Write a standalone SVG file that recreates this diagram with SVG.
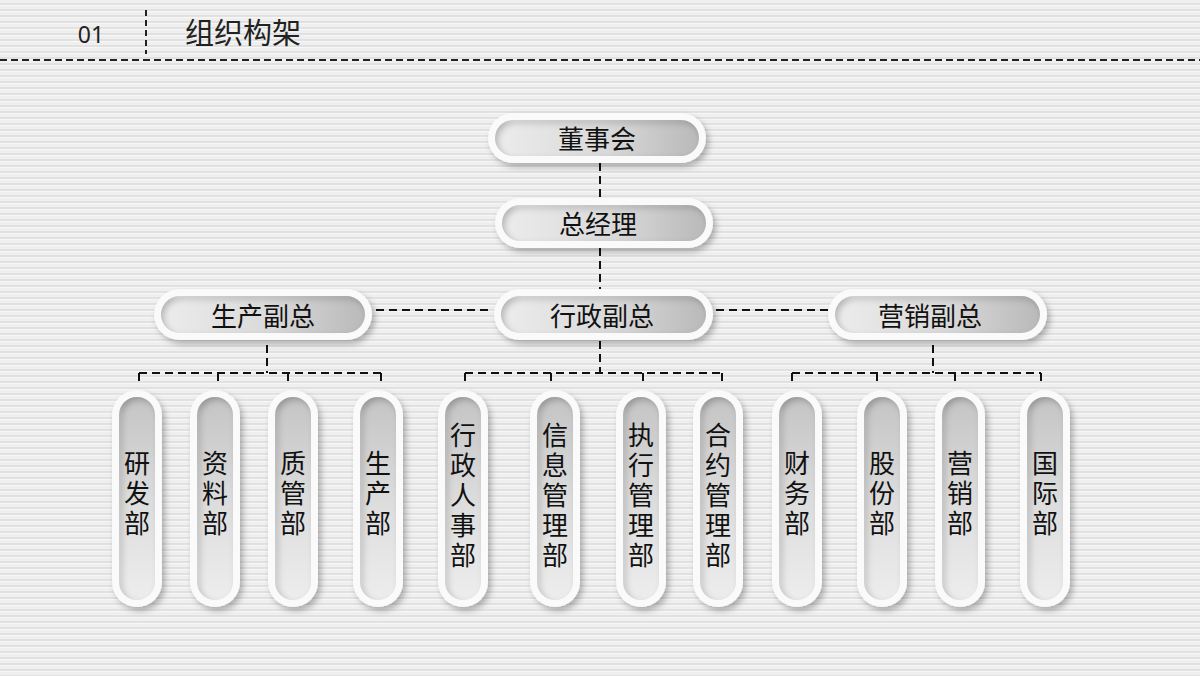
<svg xmlns="http://www.w3.org/2000/svg" width="1200" height="676" viewBox="0 0 1200 676">
<defs>
  <pattern id="stripes" width="8" height="6" patternUnits="userSpaceOnUse">
    <rect width="8" height="6" fill="#efefef"/>
    <rect y="3" width="8" height="2" fill="#e1e1e1"/>
    <rect y="5" width="8" height="1" fill="#f7f7f7"/>
  </pattern>
  <linearGradient id="gH" x1="0" y1="0" x2="1" y2="0">
    <stop offset="0" stop-color="#ececec"/>
    <stop offset="0.55" stop-color="#d9d9d9"/>
    <stop offset="1" stop-color="#b9b9b9"/>
  </linearGradient>
  <linearGradient id="gV" x1="0" y1="0" x2="0" y2="1">
    <stop offset="0" stop-color="#c4c4c4"/>
    <stop offset="0.5" stop-color="#dcdcdc"/>
    <stop offset="1" stop-color="#ededed"/>
  </linearGradient>
  <filter id="drop" x="-20%" y="-20%" width="140%" height="140%">
    <feDropShadow dx="3" dy="4" stdDeviation="3" flood-color="#000" flood-opacity="0.28"/>
  </filter>
  <filter id="inset" x="-10%" y="-10%" width="120%" height="120%">
    <feComponentTransfer in="SourceAlpha" result="inv">
      <feFuncA type="table" tableValues="1 0"/>
    </feComponentTransfer>
    <feGaussianBlur in="inv" stdDeviation="3" result="b"/>
    <feOffset in="b" dx="3" dy="3" result="ob"/>
    <feFlood flood-color="#000" flood-opacity="0.45"/>
    <feComposite in2="ob" operator="in"/>
    <feComposite in2="SourceAlpha" operator="in" result="sh"/>
    <feMerge><feMergeNode in="SourceGraphic"/><feMergeNode in="sh"/></feMerge>
  </filter>
</defs>
<style>
  .outer { fill: #fafafa; filter: url(#drop); }
  .innerH { fill: url(#gH); filter: url(#inset); }
  .innerV { fill: url(#gV); filter: url(#inset); }
  .t { font-family: "Noto Sans CJK SC", "Noto Sans", sans-serif; font-size: 26px; fill: #111; text-anchor: middle; }
  .tv { font-family: "Noto Sans CJK SC", "Noto Sans", sans-serif; font-size: 26px; fill: #111; text-anchor: middle; writing-mode: vertical-rl; letter-spacing: 4px; }
  .dash { stroke: #111; stroke-width: 2; stroke-dasharray: 8 5; fill: none; }
</style>
<rect width="1200" height="676" fill="url(#stripes)"/>

<g id="header">
  <text x="91" y="43" font-family="'Noto Sans', sans-serif" font-size="23" fill="#222" text-anchor="middle">01</text>
  <line x1="146" y1="10" x2="146" y2="54" stroke="#222" stroke-width="2" stroke-dasharray="6 4"/>
  <text x="185" y="44" font-family="'Noto Sans CJK SC', sans-serif" font-size="29" fill="#222">组织构架</text>
  <line x1="0" y1="60" x2="1200" y2="60" stroke="#222" stroke-width="2" stroke-dasharray="7 4"/>
</g>

<g id="connectors">
  <path class="dash" d="M600 163 V198"/>
  <path class="dash" d="M600 248 V289"/>
  <path class="dash" d="M376 310 H492"/>
  <path class="dash" d="M716 310 H828"/>
  <path class="dash" d="M267 345 V373 M139 373 H381 M139 373 V384 M218 373 V384 M288 373 V384 M381 373 V384"/>
  <path class="dash" d="M600 341 V373 M465 373 H722 M465 373 V384 M551 373 V384 M643 373 V384 M722 373 V384"/>
  <path class="dash" d="M933 345 V373 M792 373 H1041 M792 373 V384 M877 373 V384 M955 373 V384 M1041 373 V384"/>
</g>

<g id="n-dongshihui">
  <rect class="outer" x="488" y="113" width="218" height="50" rx="25"/>
  <rect class="innerH" x="495" y="120" width="204" height="36" rx="18"/>
  <text class="t" x="597" y="149">董事会</text>
</g>
<g id="n-zongjingli">
  <rect class="outer" x="495" y="198" width="218" height="50" rx="25"/>
  <rect class="innerH" x="502" y="205" width="204" height="36" rx="18"/>
  <text class="t" x="598" y="234">总经理</text>
</g>
<g id="n-shengchanfuzong">
  <rect class="outer" x="154" y="289" width="218" height="51" rx="25.5"/>
  <rect class="innerH" x="161" y="296" width="204" height="37" rx="18.5"/>
  <text class="t" x="263" y="326">生产副总</text>
</g>
<g id="n-xingzhengfuzong">
  <rect class="outer" x="494" y="289" width="219" height="51" rx="25.5"/>
  <rect class="innerH" x="501" y="296" width="205" height="37" rx="18.5"/>
  <text class="t" x="602" y="326">行政副总</text>
</g>
<g id="n-yingxiaofuzong">
  <rect class="outer" x="828" y="289" width="219" height="51" rx="25.5"/>
  <rect class="innerH" x="835" y="296" width="205" height="37" rx="18.5"/>
  <text class="t" x="930" y="326">营销副总</text>
</g>

<g id="n-yanfabu">
  <rect class="outer" x="112" y="390" width="50" height="217" rx="25"/>
  <rect class="innerV" x="119" y="397" width="36" height="203" rx="18"/>
  <text class="tv" x="137" y="495">研发部</text>
</g>
<g id="n-ziliaobu">
  <rect class="outer" x="190" y="390" width="50" height="217" rx="25"/>
  <rect class="innerV" x="197" y="397" width="36" height="203" rx="18"/>
  <text class="tv" x="215" y="495">资料部</text>
</g>
<g id="n-zhiguanbu">
  <rect class="outer" x="268" y="390" width="50" height="217" rx="25"/>
  <rect class="innerV" x="275" y="397" width="36" height="203" rx="18"/>
  <text class="tv" x="293" y="495">质管部</text>
</g>
<g id="n-shengchanbu">
  <rect class="outer" x="353" y="390" width="50" height="217" rx="25"/>
  <rect class="innerV" x="360" y="397" width="36" height="203" rx="18"/>
  <text class="tv" x="378" y="495">生产部</text>
</g>

<g id="n-xingzhengrenshibu">
  <rect class="outer" x="438" y="390" width="50" height="217" rx="25"/>
  <rect class="innerV" x="445" y="397" width="36" height="203" rx="18"/>
  <text class="tv" x="463" y="497">行政人事部</text>
</g>
<g id="n-xinxiguanlibu">
  <rect class="outer" x="530" y="390" width="50" height="217" rx="25"/>
  <rect class="innerV" x="537" y="397" width="36" height="203" rx="18"/>
  <text class="tv" x="555" y="497">信息管理部</text>
</g>
<g id="n-zhixingguanlibu">
  <rect class="outer" x="616" y="390" width="50" height="217" rx="25"/>
  <rect class="innerV" x="623" y="397" width="36" height="203" rx="18"/>
  <text class="tv" x="641" y="497">执行管理部</text>
</g>
<g id="n-heyueguanlibu">
  <rect class="outer" x="693" y="390" width="50" height="217" rx="25"/>
  <rect class="innerV" x="700" y="397" width="36" height="203" rx="18"/>
  <text class="tv" x="718" y="497">合约管理部</text>
</g>

<g id="n-caiwubu">
  <rect class="outer" x="772" y="390" width="50" height="217" rx="25"/>
  <rect class="innerV" x="779" y="397" width="36" height="203" rx="18"/>
  <text class="tv" x="797" y="495">财务部</text>
</g>
<g id="n-gufenbu">
  <rect class="outer" x="857" y="390" width="50" height="217" rx="25"/>
  <rect class="innerV" x="864" y="397" width="36" height="203" rx="18"/>
  <text class="tv" x="882" y="495">股份部</text>
</g>
<g id="n-yingxiaobu">
  <rect class="outer" x="935" y="390" width="50" height="217" rx="25"/>
  <rect class="innerV" x="942" y="397" width="36" height="203" rx="18"/>
  <text class="tv" x="960" y="495">营销部</text>
</g>
<g id="n-guojibu">
  <rect class="outer" x="1020" y="390" width="50" height="217" rx="25"/>
  <rect class="innerV" x="1027" y="397" width="36" height="203" rx="18"/>
  <text class="tv" x="1045" y="495">国际部</text>
</g>
</svg>
